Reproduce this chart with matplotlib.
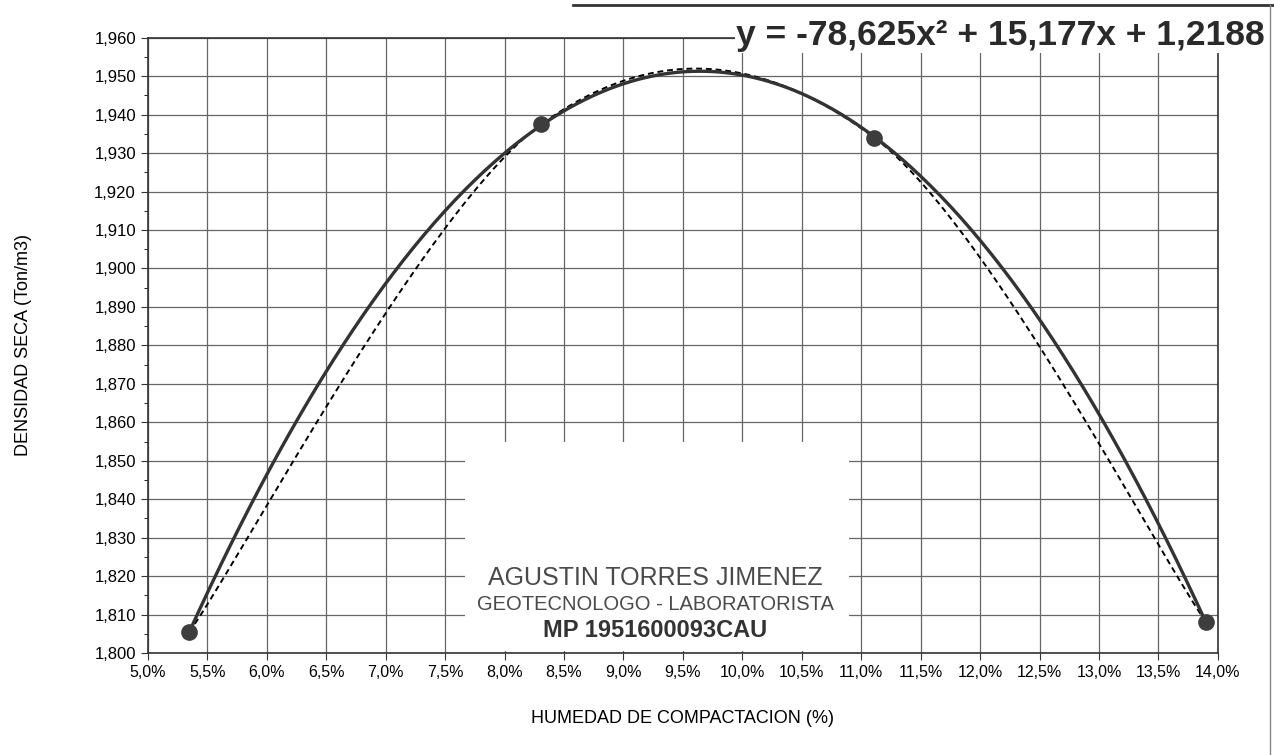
import numpy as np
import matplotlib
matplotlib.use("Agg")
import matplotlib.pyplot as plt
from matplotlib.ticker import FuncFormatter, MultipleLocator
from matplotlib.patches import Rectangle
from matplotlib.lines import Line2D

# puntos del ensayo (humedad, densidad seca)
humedad = [0.0535, 0.0831, 0.1111, 0.1390]
densidad = [1.8055, 1.9375, 1.9340, 1.8080]
ecuacion = "y = -78,625x² + 15,177x + 1,2188"
firma = ["AGUSTIN TORRES JIMENEZ", "GEOTECNOLOGO - LABORATORISTA", "MP 1951600093CAU"]

plt.rcParams['font.family'] = ['Liberation Sans', 'DejaVu Sans']

fig = plt.figure(figsize=(12.74, 7.55), dpi=100)
ax = fig.add_axes([0.116, 0.135, 0.84, 0.815])


def suave(xs, ys, n=60):
    # linea suavizada tipo Excel (Catmull-Rom, extremos repetidos)
    px = [xs[0]] + list(xs) + [xs[-1]]
    py = [ys[0]] + list(ys) + [ys[-1]]
    ox, oy = [], []
    t = np.linspace(0, 1, n)
    for i in range(1, len(px)-2):
        for p, o in ((px, ox), (py, oy)):
            p0, p1, p2, p3 = p[i-1], p[i], p[i+1], p[i+2]
            o.extend(0.5*((2*p1) + (-p0+p2)*t + (2*p0-5*p1+4*p2-p3)*t**2 + (-p0+3*p1-3*p2+p3)*t**3))
    return ox, oy


sx, sy = suave(humedad, densidad)
ax.plot(sx, sy, color="black", lw=1.4, ls=(0, (3, 2)), zorder=3)

coef = np.polyfit(humedad, densidad, 2)
xt = np.linspace(humedad[0], humedad[-1], 300)
ax.plot(xt, np.polyval(coef, xt), color="#333333", lw=2.4, zorder=4)

ax.plot(humedad, densidad, "o", color="#3d3d3d", ms=11, zorder=5)

ax.set_xlim(0.05, 0.14)
ax.set_ylim(1.800, 1.960)
ax.xaxis.set_major_locator(MultipleLocator(0.005))
ax.yaxis.set_major_locator(MultipleLocator(0.010))
ax.yaxis.set_minor_locator(MultipleLocator(0.005))
ax.xaxis.set_major_formatter(FuncFormatter(lambda v, p: ("%.1f%%" % (v*100)).replace(".", ",")))
ax.yaxis.set_major_formatter(FuncFormatter(lambda v, p: ("%.3f" % v).replace(".", ",")))
ax.grid(True, color="#666666", lw=0.9)
ax.tick_params(axis="y", labelsize=12, length=5, color="#333333")
ax.tick_params(axis="x", labelsize=11.5, length=5, color="#333333")
ax.tick_params(which="minor", length=3)
for s in ax.spines.values():
    s.set_color("#333333")
    s.set_linewidth(1.2)

ax.set_xlabel("HUMEDAD DE COMPACTACION (%)", fontsize=13, labelpad=22)
ax.set_ylabel("DENSIDAD SECA (Ton/m3)", fontsize=13, labelpad=45)

# sello de firma
ax.add_patch(Rectangle((0.0767, 1.8005), 0.0323, 0.0545, facecolor="white",
                       edgecolor="none", zorder=2))
ax.text(0.0927, 1.8195, firma[0], ha="center", va="center", fontsize=18,
        color="#4a4a4a", zorder=6)
ax.text(0.0927, 1.8127, firma[1], ha="center", va="center", fontsize=14.5,
        color="#4a4a4a", zorder=6)
ax.text(0.0927, 1.8058, firma[2], ha="center", va="center", fontsize=17,
        color="#333333", fontweight="bold", zorder=6)

fig.text(0.993, 0.953, ecuacion, ha="right", va="center", fontsize=25.5,
         fontweight="bold", color="#2a2a2a", zorder=10,
         bbox=dict(facecolor="white", edgecolor="none", pad=1))

# marco del escaneo
fig.add_artist(Line2D([0.45, 1.0], [0.993, 0.993], color="#333333", lw=2))
fig.add_artist(Line2D([0.997, 0.997], [0.0, 0.993], color="#888888", lw=1))

fig.savefig("out.png", dpi=100)
